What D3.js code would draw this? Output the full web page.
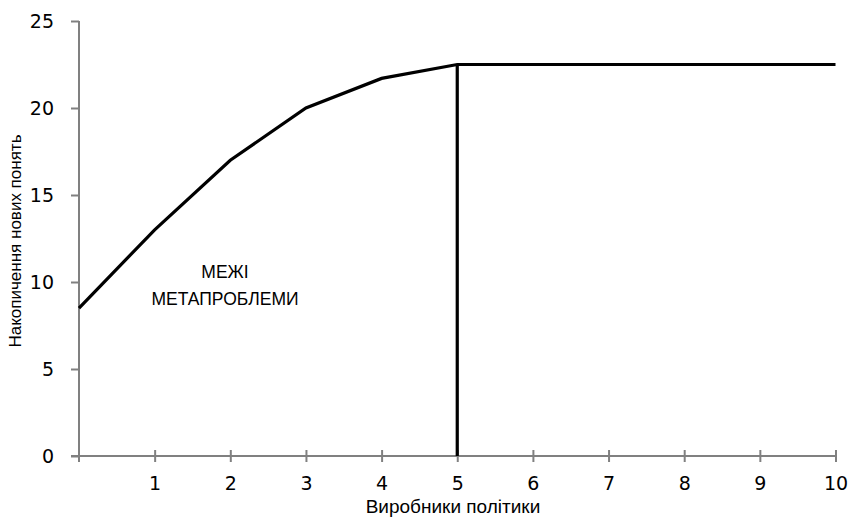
<!DOCTYPE html>
<html><head><meta charset="utf-8">
<script src="https://cdn.jsdelivr.net/npm/d3@7"></script>
<style>body{margin:0;background:#fff}</style>
</head><body>
<svg id="c" width="850" height="518"></svg>
<script>
const xValues = [0, 1, 2, 3, 4, 5, 10];
const yValues = [8.5, 13, 17, 20, 21.7, 22.5, 22.5];
const boundaryX = 5;
const xTicks = [1, 2, 3, 4, 5, 6, 7, 8, 9, 10];
const yTicks = [0, 5, 10, 15, 20, 25];
const xTitle = "Виробники політики";
const yTitle = "Накопичення нових понять";
const annotation = ["МЕЖІ", "МЕТАПРОБЛЕМИ"];

const svg = d3.select("#c");
const x = d3.scaleLinear().domain([0, 10]).range([79, 835.5]);
const y = d3.scaleLinear().domain([0, 25]).range([456, 21]);
const axisColor = "#808080";

// Y axis
const ya = svg.append("g").attr("transform", `translate(${x(0)},0)`)
  .call(d3.axisLeft(y).tickValues(yTicks).tickSize(8).tickPadding(17).tickSizeOuter(0));
ya.select(".domain").attr("stroke", axisColor).attr("stroke-width", 2)
  .attr("d", `M0,${y(25)}V${y(0)+6}`);
ya.selectAll(".tick line").attr("stroke", axisColor).attr("stroke-width", 2);
ya.selectAll(".tick text").attr("font-family", "DejaVu Sans").attr("font-size", 19).attr("fill", "#000");

// X axis
const xa = svg.append("g").attr("transform", `translate(0,${y(0)})`)
  .call(d3.axisBottom(x).tickValues(xTicks).tickSize(6).tickPadding(15).tickSizeOuter(0));
xa.select(".domain").attr("stroke", axisColor).attr("stroke-width", 2)
  .attr("d", `M${x(0)-8},0H${x(10)}`);
xa.selectAll(".tick line").attr("stroke", axisColor).attr("stroke-width", 2).attr("y1", -6);
xa.selectAll(".tick text").attr("font-family", "DejaVu Sans").attr("font-size", 19).attr("fill", "#000");

// Curve
const line = d3.line().x((d, i) => x(xValues[i])).y(d => y(d));
svg.append("path").datum(yValues).attr("d", line)
  .attr("fill", "none").attr("stroke", "#000").attr("stroke-width", 3.2).attr("stroke-linejoin", "miter");

// Boundary vertical line
svg.append("line")
  .attr("x1", x(boundaryX)).attr("x2", x(boundaryX))
  .attr("y1", y(0)).attr("y2", y(yValues[xValues.indexOf(boundaryX)]))
  .attr("stroke", "#000").attr("stroke-width", 3.2);

// Annotation
const ann = svg.append("text").attr("font-family", "Liberation Sans, Arial, sans-serif")
  .attr("font-size", 17.5).attr("text-anchor", "middle").attr("fill", "#000");
annotation.forEach((t, i) => {
  ann.append("tspan").attr("x", 225).attr("y", 278 + i * 27).text(t);
});

// Axis titles
svg.append("text").attr("x", 453).attr("y", 513)
  .attr("text-anchor", "middle").attr("font-family", "Liberation Sans, Arial, sans-serif")
  .attr("font-size", 19).attr("fill", "#000").text(xTitle);
svg.append("text").attr("transform", `translate(21,241) rotate(-90)`)
  .attr("text-anchor", "middle").attr("font-family", "Liberation Sans, Arial, sans-serif")
  .attr("font-size", 17).attr("fill", "#000").text(yTitle);
</script>
</body></html>
